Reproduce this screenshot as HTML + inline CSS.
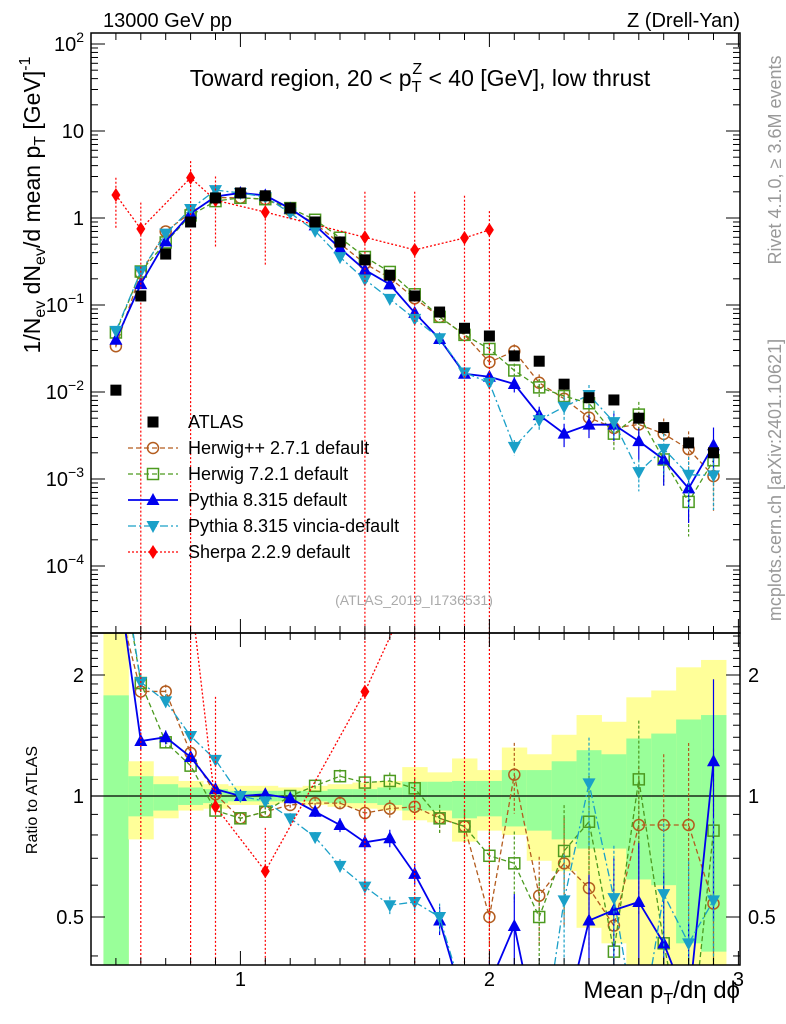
<!DOCTYPE html>
<html><head><meta charset="utf-8"><style>
html,body{margin:0;padding:0;background:#fff;overflow:hidden;width:786px;height:1024px;}
svg{display:block;font-family:"Liberation Sans",sans-serif;}
</style></head><body>
<svg id="chart" width="786" height="1024" viewBox="0 0 786 1024" xmlns="http://www.w3.org/2000/svg">
<defs>
<clipPath id="clipMain"><rect x="91" y="33" width="649" height="600"/></clipPath>
<clipPath id="clipRatio"><rect x="91" y="633" width="649" height="332"/></clipPath>
</defs>
<g id="bands" clip-path="url(#clipRatio)"></g>
<g id="marksMain" clip-path="url(#clipMain)"></g>
<g id="marksRatio" clip-path="url(#clipRatio)"></g>
<g id="axes"></g>
<text x="103" y="27" font-size="20">13000 GeV pp</text>
<text x="740" y="27" font-size="20" text-anchor="end">Z (Drell-Yan)</text>
<text x="420" y="86" font-size="23" text-anchor="middle">Toward region, 20 &lt; p<tspan font-size="16" dy="6">T</tspan><tspan font-size="16" dx="-9" dy="-18">Z</tspan><tspan dy="12"> &lt; 40 [GeV], low thrust</tspan></text>
<text transform="translate(40,205) rotate(-90)" font-size="23" text-anchor="middle">1/N<tspan font-size="16" dy="5">ev</tspan><tspan dy="-5"> dN</tspan><tspan font-size="16" dy="5">ev</tspan><tspan dy="-5">/d mean p</tspan><tspan font-size="16" dy="5">T</tspan><tspan dy="-5"> [GeV]</tspan><tspan font-size="16" dy="-10">-1</tspan></text>
<text transform="translate(37,800) rotate(-90)" font-size="16" text-anchor="middle">Ratio to ATLAS</text>
<text transform="translate(781,160) rotate(-90)" font-size="18" fill="#999" text-anchor="middle">Rivet 4.1.0, ≥ 3.6M events</text>
<text transform="translate(781,480) rotate(-90)" font-size="18" fill="#999" text-anchor="middle">mcplots.cern.ch [arXiv:2401.10621]</text>
<text x="414" y="605" font-size="14" fill="#aaa" text-anchor="middle">(ATLAS_2019_I1736531)</text>
<text x="740" y="998" font-size="24" text-anchor="end">Mean p<tspan font-size="16" dy="6">T</tspan><tspan dy="-6">/dη dϕ</tspan></text>
<g id="legend"></g>
</svg>
<script>
const xs = [0.5,0.6,0.7,0.8,0.9,1.0,1.1,1.2,1.3,1.4,1.5,1.6,1.7,1.8,1.9,2.0,2.1,2.2,2.3,2.4,2.5,2.6,2.7,2.8,2.9];
const atlas = [0.0105,0.127,0.385,0.9,1.7,1.94,1.8,1.3,0.9,0.53,0.33,0.22,0.127,0.083,0.054,0.044,0.026,0.0226,0.0123,0.0086,0.0081,0.005,0.0039,0.0026,0.002];
const herwigppRatio = [3.2,1.82,1.82,1.28,1.01,0.88,0.914,0.95,0.96,0.96,0.907,0.93,0.94,0.88,0.84,0.50,1.13,0.565,0.68,0.59,0.476,0.847,0.847,0.847,0.54];
const herwig7Ratio = [4.6,1.91,1.36,1.19,0.92,0.88,0.914,1.0,1.06,1.12,1.08,1.09,1.045,0.88,0.84,0.71,0.68,0.50,0.73,0.863,0.41,1.10,0.43,0.21,0.82];
const pythiaRatio = [3.8,1.37,1.40,1.25,1.04,1.0,1.01,0.987,0.914,0.847,0.767,0.785,0.64,0.49,0.30,0.34,0.475,0.24,0.27,0.49,0.52,0.545,0.43,0.30,1.22];
const vinciaRatio = [4.8,1.92,1.72,1.41,1.23,1.0,0.97,0.88,0.79,0.67,0.595,0.535,0.545,0.50,0.31,0.29,0.09,0.21,0.55,1.075,0.557,0.24,0.57,0.43,0.55];
const relErr = [0.05,0.05,0.04,0.03,0.03,0.03,0.03,0.03,0.03,0.04,0.05,0.05,0.06,0.08,0.1,0.15,0.2,0.25,0.3,0.3,0.35,0.4,0.5,0.6,0.6];
const sherpaX = [0.5,0.6,0.8,0.9,1.1,1.5,1.7,1.9,2.0];
const sherpaVal = [1.84,0.75,2.9,1.6,1.17,0.6,0.43,0.59,0.73];
const sherpaLo = [0.75,0.00001,0.00001,0.45,0.28,0.00001,0.00001,0.00001,0.00001];
const sherpaHi = [2.9,1.5,4.5,3.0,1.5,2.0,2.0,1.8,1.2];
const yellowHi = [2.6,1.22,1.12,1.09,1.07,1.06,1.06,1.05,1.06,1.07,1.08,1.09,1.18,1.145,1.24,1.16,1.32,1.27,1.42,1.59,1.53,1.76,1.83,2.09,2.18];
const yellowLo = [0.2,0.78,0.88,0.92,0.93,0.95,0.95,0.96,0.95,0.94,0.93,0.92,0.87,0.86,0.77,0.82,0.80,0.69,0.65,0.47,0.43,0.3,0.3,0.3,0.3];
const greenHi = [1.78,1.12,1.07,1.05,1.04,1.03,1.03,1.03,1.03,1.04,1.04,1.05,1.085,1.085,1.09,1.09,1.16,1.16,1.22,1.30,1.27,1.39,1.43,1.55,1.59];
const greenLo = [0.2,0.89,0.92,0.95,0.96,0.97,0.97,0.97,0.97,0.96,0.96,0.95,0.92,0.92,0.88,0.89,0.84,0.82,0.78,0.74,0.74,0.62,0.6,0.43,0.41];

const NS='http://www.w3.org/2000/svg';
const X = v => 91 + (v-0.4)*249;
const Y = v => 218 - 87*Math.log10(v);
const R = r => 796 - 121*Math.log2(r);
const LIM_MAIN=[33,633], LIM_RATIO=[633,965];
function mk(tag, attrs, parent){const e=document.createElementNS(NS,tag);for(const k in attrs)e.setAttribute(k,attrs[k]);parent.appendChild(e);return e;}
const clampY=(y,lim)=>Math.max(lim[0],Math.min(lim[1],y));
function clipPath(pts,lim){
  let d='',open=false;
  for(let i=0;i<pts.length-1;i++){
    let [x1,y1]=pts[i],[x2,y2]=pts[i+1];
    let t0=0,t1=1;const dy=y2-y1;
    if(dy===0){ if(y1<lim[0]||y1>lim[1]){open=false;continue;} }
    else{
      let ta=(lim[0]-y1)/dy, tb=(lim[1]-y1)/dy;
      t0=Math.max(t0,Math.min(ta,tb)); t1=Math.min(t1,Math.max(ta,tb));
      if(t0>t1){open=false;continue;}
    }
    const ax=x1+(x2-x1)*t0, ay=y1+dy*t0, bx=x1+(x2-x1)*t1, by=y1+dy*t1;
    if(!open||t0>0) d+=`M${ax.toFixed(2)},${ay.toFixed(2)}`;
    d+=`L${bx.toFixed(2)},${by.toFixed(2)}`;
    open=(t1===1);
  }
  return d||'M0,0';
}
const gB=document.getElementById('bands'), gM=document.getElementById('marksMain'), gR=document.getElementById('marksRatio'), gA=document.getElementById('axes'), gL=document.getElementById('legend');

xs.forEach((x,i)=>{
  const yt=clampY(R(yellowHi[i]),LIM_RATIO), yb=clampY(R(yellowLo[i]),LIM_RATIO);
  let y1=mk('rect',{x:X(x-0.05),y:yt,width:X(x+0.05)-X(x-0.05)+0.5,height:yb-yt,fill:'#ffff99'},gB);
  
  
  const gt=clampY(R(greenHi[i]),LIM_RATIO), gb=clampY(R(greenLo[i]),LIM_RATIO);
  let g1=mk('rect',{x:X(x-0.05),y:gt,width:X(x+0.05)-X(x-0.05)+0.5,height:gb-gt,fill:'#99ff99'},gB);
  
  
});
mk('line',{x1:91,x2:740,y1:R(1),y2:R(1),stroke:'#000','stroke-width':1.2},gR);

function marker(type,cx,cy,color,parent){
  let e;
  if(type==='circle') e=mk('circle',{cx,cy,r:5.5,fill:'none',stroke:color,'stroke-width':1.5},parent);
  else if(type==='square') e=mk('rect',{x:cx-5.5,y:cy-5.5,width:11,height:11,fill:'none',stroke:color,'stroke-width':1.5},parent);
  else if(type==='up') e=mk('polygon',{points:`${cx},${cy-7} ${cx-6.5},${cy+5} ${cx+6.5},${cy+5}`,fill:color},parent);
  else if(type==='down') e=mk('polygon',{points:`${cx},${cy+7} ${cx-6.5},${cy-5} ${cx+6.5},${cy-5}`,fill:color},parent);
  else if(type==='diamond') e=mk('polygon',{points:`${cx},${cy-7} ${cx-4.5},${cy} ${cx},${cy+7} ${cx+4.5},${cy}`,fill:color},parent);
  else e=mk('rect',{x:cx-5.5,y:cy-5.5,width:11,height:11,fill:color},parent);
  return e;
}
function inside(y,lim){return y>=lim[0]-8&&y<=lim[1]+8;}
const series=[
 {name:'herwigpp',ratio:herwigppRatio,color:'#b35c1e',dash:'5,3',mark:'circle',w:1.3},
 {name:'herwig7',ratio:herwig7Ratio,color:'#4c9a1f',dash:'5,3',mark:'square',w:1.3},
 {name:'pythia',ratio:pythiaRatio,color:'#0000ee',dash:'',mark:'up',w:1.8},
 {name:'vincia',ratio:vinciaRatio,color:'#1aa0c8',dash:'8,3,2,3',mark:'down',w:1.3}
];
series.forEach(s=>{
  const vals=s.ratio.map((r,i)=>r*atlas[i]);
  [[gM,vals,Y,LIM_MAIN],[gR,s.ratio,R,LIM_RATIO]].forEach(([g,v,F,lim])=>{
    const pl=mk('path',{d:clipPath(xs.map((x,i)=>[X(x),F(v[i])]),lim),fill:'none',stroke:s.color,'stroke-width':s.w,'stroke-dasharray':s.dash},g);
    
    
    xs.forEach((x,i)=>{
      const lo=Math.max(v[i]*(1-relErr[i]),1e-6), hi=v[i]*(1+relErr[i]);
      const ya=clampY(F(hi),lim), yb=clampY(F(lo),lim);
      if(yb>ya){
        const eb=mk('line',{x1:X(x),x2:X(x),y1:ya,y2:yb,stroke:s.color,'stroke-width':1.2,'stroke-dasharray':s.dash?'3,2':''},g);
        
        
      }
      const py=F(v[i]);
      if(inside(py,lim)){
        const m=marker(s.mark,X(x),py,s.color,g);
        
        
      }
    });
  });
});
const shR=sherpaX.map((x,i)=>sherpaVal[i]/atlas[xs.findIndex(z=>Math.abs(z-x)<1e-6)]);
[[gM,sherpaVal,Y,sherpaLo,sherpaHi,LIM_MAIN],[gR,shR,R,null,null,LIM_RATIO]].forEach(([g,v,F,lo,hi,lim])=>{
  const pl=mk('path',{d:clipPath(sherpaX.map((x,i)=>[X(x),F(v[i])]),lim),fill:'none',stroke:'#ff0000','stroke-width':1.3,'stroke-dasharray':'2,2'},g);
  
  
  sherpaX.forEach((x,i)=>{
    const a=lo?lo[i]:(sherpaLo[i]/sherpaVal[i])*v[i], b=hi?hi[i]:(sherpaHi[i]/sherpaVal[i])*v[i];
    const ya=clampY(F(b),lim), yb=clampY(F(Math.max(a,1e-6)),lim);
    if(yb>ya){
      const eb=mk('line',{x1:X(x),x2:X(x),y1:ya,y2:yb,stroke:'#ff0000','stroke-width':1.2,'stroke-dasharray':'2,2'},g);
      
      
    }
    const py=F(v[i]);
    if(inside(py,lim)){
      const m=marker('diamond',X(x),py,'#ff0000',g);
      
      
    }
  });
});
xs.forEach((x,i)=>{
  const m=marker('sq',X(x),Y(atlas[i]),'#000',gM);
  
  
});

[[33,633],[633,965]].forEach(([t,b])=>{
  mk('rect',{x:91,y:t,width:649,height:b-t,fill:'none',stroke:'#000','stroke-width':1.5},gA);
  for(let k=4;k<=30;k++){
    const x=X(k/10), big=(k%10===0), L=big?14:7;
    mk('line',{x1:x,x2:x,y1:b,y2:b-L,stroke:'#000','stroke-width':1},gA);
    mk('line',{x1:x,x2:x,y1:t,y2:t+L,stroke:'#000','stroke-width':1},gA);
  }
});
const xTicks=['1','2','3'];
xTicks.forEach(t=>{const e=mk('text',{x:X(+t),y:986,'font-size':20,'text-anchor':'middle'},gA);e.textContent=t;
  
  });
for(let d=-5;d<=2;d++){
  for(let m=1;m<10;m++){
    const v=m*Math.pow(10,d), y=Y(v);
    if(y<33||y>633) continue;
    const L=m===1?14:7;
    mk('line',{x1:91,x2:91+L,y1:y,y2:y,stroke:'#000','stroke-width':1},gA);
    mk('line',{x1:740,x2:740-L,y1:y,y2:y,stroke:'#000','stroke-width':1},gA);
  }
}
const yTickExp=[2,1,0,-1,-2,-3,-4];
yTickExp.forEach(e=>{
  const t=mk('text',{x:84,y:Y(Math.pow(10,e))+7,'font-size':20,'text-anchor':'end'},gA);
  
  
  if(e===1) t.textContent='10'; else if(e===0) t.textContent='1';
  else { t.textContent='10'; const s=mk('tspan',{'font-size':14,dy:-9},t); s.textContent=String(e).replace('-','−'); }
});
const rMinor=[0.4,0.5,0.6,0.7,0.8,0.9,1,1.1,1.2,1.3,1.4,1.5,1.6,1.7,1.8,1.9,2,2.1,2.2,2.3,2.4,2.5];
rMinor.forEach(r=>{const y=R(r);if(y<633||y>965)return;const L=(r===0.5||r===1||r===2)?14:7;
  mk('line',{x1:91,x2:91+L,y1:y,y2:y,stroke:'#000'},gA);mk('line',{x1:740,x2:740-L,y1:y,y2:y,stroke:'#000'},gA);});
const rTicks=['2','1','0.5'];
rTicks.forEach(t=>{
  const a=mk('text',{x:84,y:R(+t)+7,'font-size':20,'text-anchor':'end'},gA);a.textContent=t;
  
  
  const b=mk('text',{x:748,y:R(+t)+7,'font-size':20},gA);b.textContent=t;
  
  
});

const legNames=['ATLAS','Herwig++ 2.7.1 default','Herwig 7.2.1 default','Pythia 8.315 default','Pythia 8.315 vincia-default','Sherpa 2.2.9 default'];
const legMarks=['sq','circle','square','up','down','diamond'];
const legColors=['#000','#b35c1e','#4c9a1f','#0000ee','#1aa0c8','#ff0000'];
const legDash=[null,'5,3','5,3','','8,3,2,3','2,2'];
legNames.forEach((n,i)=>{
  const y=422+i*26;
  const g=mk('g',{},gL);
  
  
  if(legDash[i]!==null) mk('line',{x1:128,x2:178,y1:y,y2:y,stroke:legColors[i],'stroke-width':i===3?1.8:1.3,'stroke-dasharray':legDash[i]},g);
  marker(legMarks[i],153,y,legColors[i],g);
  const t=mk('text',{x:188,y:y+6,'font-size':18},g);t.textContent=n;
});
</script>
</body></html>
